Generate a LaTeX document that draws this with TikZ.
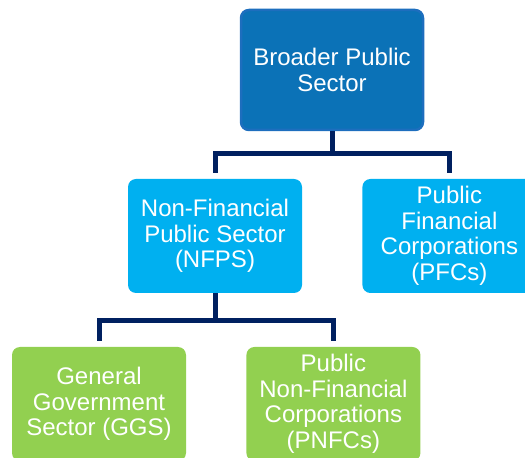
\documentclass[tikz,border=0pt]{standalone}
\usepackage{fontspec}
\setmainfont{Liberation Sans}
\usetikzlibrary{positioning}
\definecolor{topblue}{HTML}{0B72B7}
\definecolor{topedge}{HTML}{1D6EBE}
\definecolor{midblue}{HTML}{00B0F0}
\definecolor{lowgreen}{HTML}{92D050}
\definecolor{navy}{HTML}{002060}

\begin{document}
\begin{tikzpicture}[x=1pt,y=1pt,
  box/.style={rectangle,rounded corners=8pt,minimum width=174pt,minimum height=114pt,
    text=white,align=center,font=\fontsize{24}{25.5}\selectfont,inner sep=0pt},
  top node/.style={box,fill=topblue,draw=topedge,line width=2.5pt,minimum width=182pt,minimum height=120pt},
  mid node/.style={box,fill=midblue},
  low node/.style={box,fill=lowgreen},
  link/.style={draw=navy,line width=5pt,shorten >=6pt}]

  \useasboundingbox (0,0) rectangle (525,458);

  \node[top node] (BPS) at (332,388) {Broader Public\\Sector};
  \node[mid node] (NFPS) at (215,222) {Non-Financial\\Public Sector\\(NFPS)};
  \node[mid node] (PFC) [right=60pt of NFPS] {Public\\Financial\\Corporations\\(PFCs)};
  \node[low node] (GGS) at (99,54) {General\\Government\\Sector (GGS)};
  \node[low node] (PNFC) [right=60pt of GGS] {Public\\Non-Financial\\Corporations\\(PNFCs)};

  % tree links
  \draw[link] (BPS.south) -- ++(0,-22) -| (NFPS.north);
  \draw[link] (BPS.south) -- ++(0,-22) -| (PFC.north);
  \draw[link] (NFPS.south) -- ++(0,-27) -| (GGS.north);
  \draw[link] (NFPS.south) -- ++(0,-27) -| (PNFC.north);
\end{tikzpicture}
\end{document}
